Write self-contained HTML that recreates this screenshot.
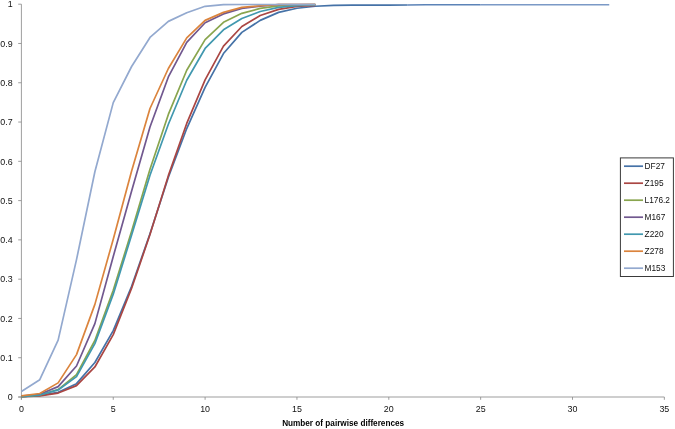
<!DOCTYPE html>
<html><head><meta charset="utf-8"><title>chart</title>
<style>
html,body{margin:0;padding:0;background:#fff;}
svg{display:block;}
text{font-family:"Liberation Sans",sans-serif;fill:#111;}
.t{font-size:8.9px;}
.l{font-size:8.3px;}
.ti{font-size:8.2px;font-weight:bold;fill:#000;}
</style></head><body>
<svg width="675" height="429" viewBox="0 0 675 429">
<rect width="675" height="429" fill="#fff"/>

<g stroke="#8c8c8c" stroke-width="0.85" fill="none">
<path d="M21.4 4.2 V399.5"/>
<path d="M18.2 397.0 H664.35"/>
<path d="M18.2 397.00 H21.4"/>
<path d="M18.2 357.72 H21.4"/>
<path d="M18.2 318.44 H21.4"/>
<path d="M18.2 279.16 H21.4"/>
<path d="M18.2 239.88 H21.4"/>
<path d="M18.2 200.60 H21.4"/>
<path d="M18.2 161.32 H21.4"/>
<path d="M18.2 122.04 H21.4"/>
<path d="M18.2 82.76 H21.4"/>
<path d="M18.2 43.48 H21.4"/>
<path d="M18.2 4.20 H21.4"/>
<path d="M21.40 397.0 V399.8"/>
<path d="M113.25 397.0 V399.8"/>
<path d="M205.10 397.0 V399.8"/>
<path d="M296.95 397.0 V399.8"/>
<path d="M388.80 397.0 V399.8"/>
<path d="M480.65 397.0 V399.8"/>
<path d="M572.50 397.0 V399.8"/>
<path d="M664.35 397.0 V399.8"/>
</g>
<text class="t" x="12.6" y="400.25" text-anchor="end">0</text>
<text class="t" x="12.6" y="360.97" text-anchor="end">0.1</text>
<text class="t" x="12.6" y="321.69" text-anchor="end">0.2</text>
<text class="t" x="12.6" y="282.41" text-anchor="end">0.3</text>
<text class="t" x="12.6" y="243.13" text-anchor="end">0.4</text>
<text class="t" x="12.6" y="203.85" text-anchor="end">0.5</text>
<text class="t" x="12.6" y="164.57" text-anchor="end">0.6</text>
<text class="t" x="12.6" y="125.29" text-anchor="end">0.7</text>
<text class="t" x="12.6" y="86.01" text-anchor="end">0.8</text>
<text class="t" x="12.6" y="46.73" text-anchor="end">0.9</text>
<text class="t" x="12.6" y="7.45" text-anchor="end">1</text>
<text class="t" x="21.40" y="412.3" text-anchor="middle">0</text>
<text class="t" x="113.25" y="412.3" text-anchor="middle">5</text>
<text class="t" x="205.10" y="412.3" text-anchor="middle">10</text>
<text class="t" x="296.95" y="412.3" text-anchor="middle">15</text>
<text class="t" x="388.80" y="412.3" text-anchor="middle">20</text>
<text class="t" x="480.65" y="412.3" text-anchor="middle">25</text>
<text class="t" x="572.50" y="412.3" text-anchor="middle">30</text>
<text class="t" x="664.35" y="412.3" text-anchor="middle">35</text>
<text class="ti" x="343.1" y="426.3" text-anchor="middle">Number of pairwise differences</text>
<polyline points="480.65,4.77 499.02,4.77 517.39,4.77 535.76,4.77 554.13,4.77 572.50,4.77 590.87,4.77 609.24,4.77" fill="none" stroke="#7b99c6" stroke-width="1.4" stroke-linejoin="round" stroke-linecap="butt"/>
<polyline points="407.17,5.01 425.54,4.77 443.91,4.77 462.28,4.77 480.65,4.77" fill="none" stroke="#5c83b7" stroke-width="1.5" stroke-linejoin="round" stroke-linecap="butt"/>
<polyline points="21.40,396.61 39.77,395.43 58.14,392.29 76.51,383.65 94.88,362.46 113.25,330.67 131.62,286.31 149.99,233.72 168.36,177.20 186.73,128.53 205.10,87.32 223.47,53.56 241.84,32.37 260.21,20.36 278.58,12.35 296.95,8.23 315.32,6.27 333.69,5.29 352.06,5.09 370.43,5.09 388.80,5.05 407.17,5.01" fill="none" stroke="#4572A7" stroke-width="1.7" stroke-linejoin="round" stroke-linecap="butt"/>
<polyline points="21.40,396.61 39.77,395.82 58.14,393.07 76.51,385.62 94.88,366.97 113.25,334.59 131.62,288.28 149.99,234.50 168.36,175.63 186.73,123.43 205.10,79.86 223.47,46.11 241.84,26.48 260.21,15.49 278.58,9.33 296.95,6.46 315.32,5.29" fill="none" stroke="#AA4643" stroke-width="1.7" stroke-linejoin="round" stroke-linecap="butt"/>
<polyline points="21.40,396.61 39.77,395.04 58.14,389.54 76.51,374.63 94.88,340.48 113.25,290.24 131.62,231.17 149.99,169.35 168.36,114.40 186.73,70.24 205.10,39.59 223.47,22.36 241.84,13.33 260.21,8.43 278.58,5.91 296.95,4.89 315.32,4.50" fill="none" stroke="#89A54E" stroke-width="1.7" stroke-linejoin="round" stroke-linecap="butt"/>
<polyline points="21.40,396.21 39.77,394.25 58.14,386.60 76.51,365.99 94.88,323.60 113.25,256.49 131.62,190.94 149.99,126.96 168.36,76.92 186.73,42.42 205.10,22.75 223.47,13.92 241.84,8.43 260.21,6.07 278.58,4.50 296.95,4.50 315.32,4.50" fill="none" stroke="#71588F" stroke-width="1.7" stroke-linejoin="round" stroke-linecap="butt"/>
<polyline points="21.40,396.61 39.77,395.04 58.14,389.94 76.51,376.59 94.88,343.62 113.25,294.16 131.62,235.09 149.99,175.24 168.36,124.21 186.73,80.25 205.10,48.46 223.47,29.82 241.84,18.43 260.21,11.49 278.58,7.44 296.95,5.68 315.32,4.89" fill="none" stroke="#4198AF" stroke-width="1.7" stroke-linejoin="round" stroke-linecap="butt"/>
<polyline points="21.40,395.82 39.77,393.47 58.14,382.87 76.51,354.61 94.88,304.37 113.25,239.22 131.62,170.92 149.99,108.51 168.36,68.48 186.73,37.86 205.10,20.36 223.47,12.35 241.84,7.33 260.21,5.76 278.58,4.50 296.95,4.50 315.32,4.50" fill="none" stroke="#DB843D" stroke-width="1.7" stroke-linejoin="round" stroke-linecap="butt"/>
<polyline points="21.40,391.50 39.77,379.73 58.14,340.09 76.51,259.62 94.88,171.71 113.25,102.62 131.62,66.51 149.99,37.47 168.36,21.38 186.73,12.74 205.10,6.31 223.47,4.66 241.84,4.50 260.21,4.50 278.58,4.50 296.95,4.50 315.32,4.50" fill="none" stroke="#93A9CF" stroke-width="1.7" stroke-linejoin="round" stroke-linecap="butt"/>
<rect x="620.4" y="157.9" width="53" height="118.6" fill="#fff" stroke="#3a3a3a" stroke-width="1"/>
<path d="M624 166.2 H643" stroke="#4572A7" stroke-width="1.7" fill="none"/>
<text class="l" x="644.6" y="169.2">DF27</text>
<path d="M624 183.2 H643" stroke="#AA4643" stroke-width="1.7" fill="none"/>
<text class="l" x="644.6" y="186.2">Z195</text>
<path d="M624 200.2 H643" stroke="#89A54E" stroke-width="1.7" fill="none"/>
<text class="l" x="644.6" y="203.2">L176.2</text>
<path d="M624 217.2 H643" stroke="#71588F" stroke-width="1.7" fill="none"/>
<text class="l" x="644.6" y="220.2">M167</text>
<path d="M624 234.2 H643" stroke="#4198AF" stroke-width="1.7" fill="none"/>
<text class="l" x="644.6" y="237.2">Z220</text>
<path d="M624 251.2 H643" stroke="#DB843D" stroke-width="1.7" fill="none"/>
<text class="l" x="644.6" y="254.2">Z278</text>
<path d="M624 268.2 H643" stroke="#93A9CF" stroke-width="1.7" fill="none"/>
<text class="l" x="644.6" y="271.2">M153</text>
</svg></body></html>
